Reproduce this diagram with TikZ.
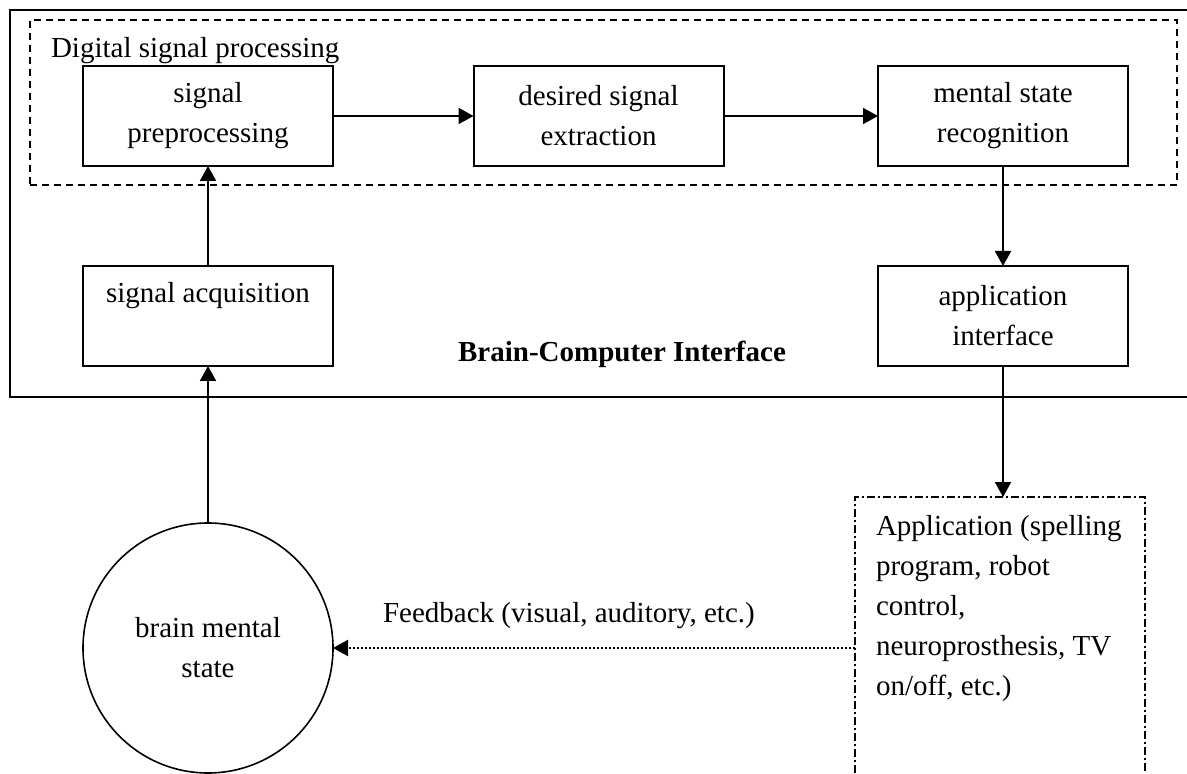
\documentclass[tikz,border=0pt]{standalone}
\usepackage{fontspec}
\setmainfont{Liberation Serif}
\usetikzlibrary{arrows.meta}
\begin{document}
\begin{tikzpicture}[x=0.5pt,y=-0.5pt,
  every node/.style={font=\fontsize{14.5}{20}\selectfont, inner sep=0pt, outer sep=0pt},
  blk/.style={draw, line width=1pt, minimum width=125pt, minimum height=50pt, align=center},
  arr/.style={line width=1pt, -{Triangle[length=7.5pt,width=8pt]}},
  dspstyle/.style={draw, line width=0.8pt, dash pattern=on 3.5pt off 2.5pt},
  appstyle/.style={draw, line width=0.8pt, dash pattern=on 4pt off 1.5pt on 1pt off 1.5pt},
  fbline/.style={line width=1pt, dash pattern=on 1pt off 1pt, -{Triangle[length=7.5pt,width=8pt]}}
  ]
\useasboundingbox (0,0) rectangle (1187,774);
% outer Brain-Computer Interface frame (extends past right edge)
\node[draw, line width=1pt, anchor=north west, minimum width=597.5pt, minimum height=193.5pt] (bci) at (10,10) {};
% digital signal processing frame
\node[dspstyle, anchor=north west, minimum width=573.5pt, minimum height=82.5pt] (dsp) at (30,20) {};
\node[anchor=base west] (dsplabel) at (51,58) {Digital signal processing};
% blocks
\node[blk] (pre) at (208,116) {signal\\preprocessing};
\node[blk] (ext) at (598.5,116) {desired signal\\extraction};
\node[blk] (rec) at (1003,116) {mental state\\recognition};
\node[blk] (acq) at (208,316) {signal acquisition\\\phantom{p}};
\node[blk] (api) at (1003,316) {application\\interface};
\node[anchor=base] (bcilabel) at (622,362) {\bfseries Brain-Computer Interface};
% brain
\node[draw, circle, line width=0.8pt, minimum size=125pt, align=center] (brain) at (208,648) {brain mental\\state};
% application box (extends past bottom edge)
\node[appstyle, anchor=north, minimum width=145pt, minimum height=160pt] (app) at (1000,497) {};
\node[anchor=north west, align=left] (apptext) at (876,515) {Application (spelling\\program, robot\\control,\\neuroprosthesis, TV\\on/off, etc.)};
\node[anchor=base west] (fblabel) at (383,622) {Feedback (visual, auditory, etc.)};
% connectors
\draw[arr] (pre.east) -- (ext.west);
\draw[arr] (ext.east) -- (rec.west);
\draw[arr] (acq.north) -- (pre.south);
\draw[arr] (brain.north) -- (acq.south);
\draw[arr] (rec.south) -- (api.north);
\draw[arr] (api.south) -- (api.south |- app.north);
\draw[fbline] (brain.east -| app.west) -- (brain.east);
\end{tikzpicture}
\end{document}
